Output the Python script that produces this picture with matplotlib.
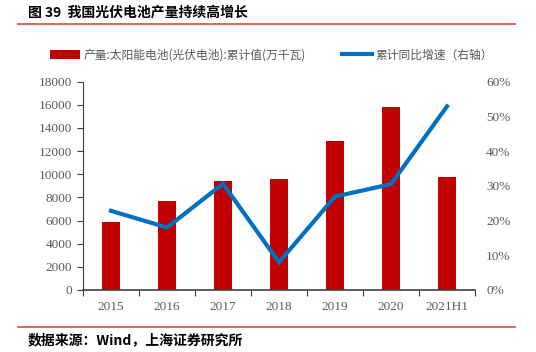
import matplotlib
matplotlib.use("Agg")
import matplotlib.pyplot as plt
from matplotlib.lines import Line2D
from matplotlib.patches import Patch
from matplotlib.ticker import FuncFormatter, MultipleLocator

plt.rcParams["font.family"] = ["Noto Sans CJK SC", "DejaVu Sans"]

CATEGORIES = ["2015", "2016", "2017", "2018", "2019", "2020", "2021H1"]
OUTPUT = [5860, 7700, 9460, 9620, 12900, 15800, 9780]  # 万千瓦
GROWTH = [22.8, 18.0, 30.6, 8.0, 26.9, 30.5, 52.9]  # %

BAR_LABEL = "产量:太阳能电池(光伏电池):累计值(万千瓦)"
LINE_LABEL = "累计同比增速（右轴）"
TITLE = "图 39  我国光伏电池产量持续高增长"
SOURCE = "数据来源：Wind，上海证券研究所"

RED = "#C00000"
BLUE = "#0070C0"
GREY = "#595959"
NUM_FONT = ["Liberation Serif", "DejaVu Serif"]


def main() -> None:
    fig = plt.figure(figsize=(5.36, 3.52), dpi=100)
    ax = fig.add_axes([83 / 536, 62 / 352, 392 / 536, 208.3 / 352])
    ax2 = ax.twinx()

    x = list(range(len(CATEGORIES)))
    ax.bar(x, OUTPUT, width=0.33, color=RED, zorder=2)
    ax2.plot(x, GROWTH, color=BLUE, linewidth=3.0, solid_joinstyle="miter", zorder=3)

    ax.set_xlim(-0.5, len(CATEGORIES) - 0.5)
    ax.set_ylim(0, 18000)
    ax.yaxis.set_major_locator(MultipleLocator(2000))
    ax2.set_ylim(0, 60)
    ax2.yaxis.set_major_locator(MultipleLocator(10))
    ax2.yaxis.set_major_formatter(FuncFormatter(lambda v, _: f"{v:.0f}%"))

    for a in (ax, ax2):
        a.spines["top"].set_visible(False)
        a.spines["right"].set_visible(False)
    ax2.spines["left"].set_visible(False)
    ax2.spines["bottom"].set_visible(False)
    ax.spines["left"].set_color("#404040")
    ax.spines["bottom"].set_color("#404040")
    ax.spines["bottom"].set_linewidth(1.2)

    ax.set_xticks([i - 0.5 for i in range(len(CATEGORIES) + 1)])
    ax.set_xticklabels([])
    ax.set_xticks(x, minor=True)
    ax.set_xticklabels(CATEGORIES, minor=True)
    ax.tick_params(axis="x", which="major", direction="out", length=4, color="#404040")
    ax.tick_params(axis="x", which="minor", length=0, pad=8, labelcolor=GREY)
    ax.tick_params(axis="y", direction="out", length=4, color="#404040", labelcolor=GREY, pad=4)
    ax2.tick_params(axis="y", length=0, labelcolor=GREY, pad=8)

    for lab in ax.get_xticklabels(minor=True) + ax.get_yticklabels() + ax2.get_yticklabels():
        lab.set_fontfamily(NUM_FONT)
        lab.set_fontsize(9.5)

    handles = [
        Patch(facecolor=RED, edgecolor="none"),
        Line2D([0], [0], color=BLUE, linewidth=3.0),
    ]
    fig.legend(
        handles,
        [BAR_LABEL, LINE_LABEL],
        loc="center left",
        bbox_to_anchor=(39 / 536, 1 - 55 / 352),
        ncol=2,
        frameon=False,
        fontsize=8.5,
        handlelength=2.6,
        handleheight=0.7,
        handletextpad=0.3,
        columnspacing=3.0,
        labelcolor=GREY,
    )

    fig.text(28 / 536, 1 - 13 / 352, TITLE, fontsize=10, fontweight="bold",
             va="center", ha="left", color="black")
    fig.add_artist(Line2D([18 / 536, 515 / 536], [1 - 24 / 352, 1 - 24 / 352],
                          color="#E8413C", linewidth=1.2))
    fig.add_artist(Line2D([18 / 536, 515 / 536], [1 - 327 / 352, 1 - 327 / 352],
                          color="#E8413C", linewidth=1.2))
    fig.text(28 / 536, 1 - 340 / 352, SOURCE, fontsize=10, fontweight="bold",
             fontstyle="italic", va="center", ha="left", color="black")

    fig.savefig("out.png", dpi=100)
    plt.close(fig)


if __name__ == "__main__":
    main()
